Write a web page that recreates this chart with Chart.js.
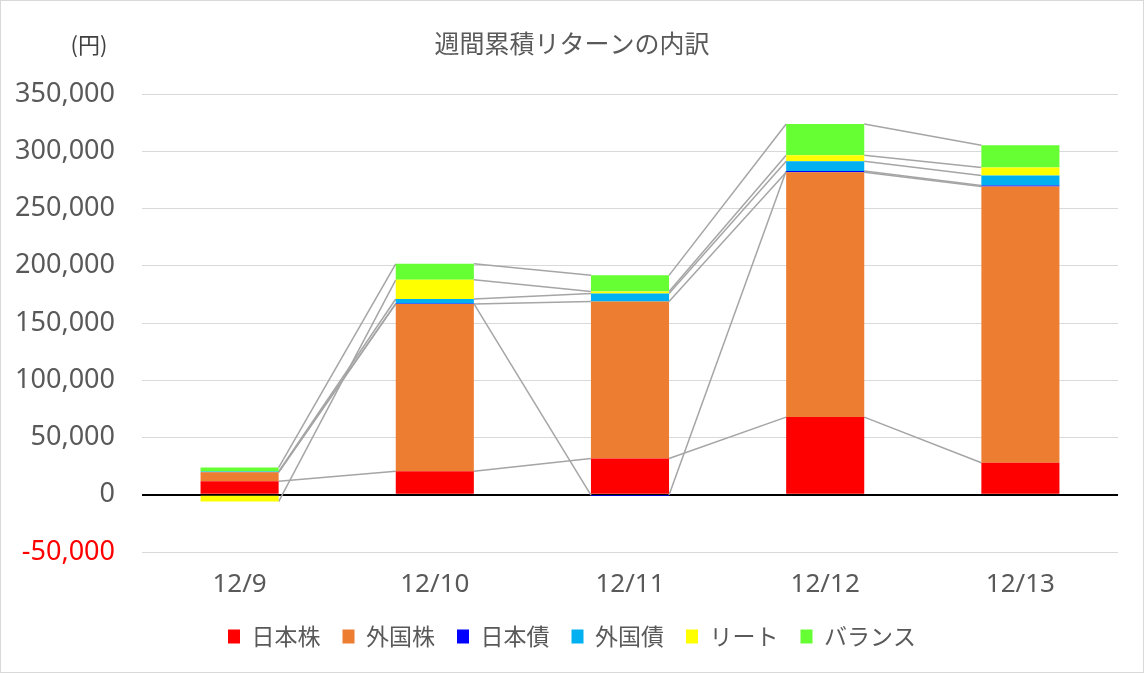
<!DOCTYPE html>
<html lang="ja">
<head>
    <meta charset="UTF-8">
    <title>週間累積リターンの内訳</title>
    <script src="https://cdn.jsdelivr.net/npm/chart.js"></script>
    <style>
        body { margin: 0; background: #fff; }
        #wrap { width: 1144px; height: 673px; position: relative; }
    </style>
</head>
<body>
    <div id="wrap"><canvas id="chart"></canvas></div>

    <script>
        // data (yen)
        const days = ['12/9', '12/10', '12/11', '12/12', '12/13'];
        const jpStock   = [11700, 20500, 31600, 67800, 28000];
        const fgnStock  = [7900, 146200, 137200, 213800, 241200];
        const jpBond    = [300, 300, -300, 1200, 900];
        const fgnBond   = [300, 4000, 7000, 8500, 8800];
        const reit      = [-6000, 16700, 1800, 5300, 7000];
        const balance   = [3500, 14000, 14000, 27200, 19300];

        const seriesNames  = ['日本株', '外国株', '日本債', '外国債', 'リート', 'バランス'];
        const seriesColors = ['#FF0000', '#ED7D31', '#0000FF', '#00B0F0', '#FFFF00', '#66FF33'];
        const seriesData   = [jpStock, fgnStock, jpBond, fgnBond, reit, balance];

        const yMin = -50000, yMax = 350000, yStep = 50000;

        const numFont = 'Noto Sans, "Noto Sans CJK JP", sans-serif';
        const jpFont = '"Noto Sans CJK JP", sans-serif';

        // white background + thin frame round the whole chart
        const frame = {
            id: 'frame',
            beforeDraw(chart) {
                const c = chart.ctx;
                c.save();
                c.fillStyle = '#fff';
                c.fillRect(0, 0, chart.width, chart.height);
                c.strokeStyle = '#d9d9d9';
                c.lineWidth = 1;
                c.strokeRect(0.5, 0.5, chart.width - 1, chart.height - 1);
                c.restore();
            },
            afterDraw(chart) {
                const c = chart.ctx;
                c.save();
                c.fillStyle = '#404040';
                c.font = '22px ' + jpFont;
                c.textAlign = 'center';
                c.textBaseline = 'middle';
                c.fillText('(円)', 89, 45);
                c.restore();
            }
        };

        // Excel style series lines between stacked segments
        const seriesLines = {
            id: 'seriesLines',
            beforeDatasetsDraw(chart) {
                const c = chart.ctx;
                c.save();
                c.strokeStyle = '#A5A5A5';
                c.lineWidth = 1.5;
                chart.data.datasets.forEach((ds, i) => {
                    const bars = chart.getDatasetMeta(i).data;
                    for (let j = 0; j < bars.length - 1; j++) {
                        const a = bars[j], b = bars[j + 1];
                        c.beginPath();
                        c.moveTo(a.x + a.width / 2, a.y);
                        c.lineTo(b.x - b.width / 2, b.y);
                        c.stroke();
                    }
                });
                c.restore();
            }
        };

        new Chart(document.getElementById('chart'), {
            type: 'bar',
            data: {
                labels: days,
                datasets: seriesNames.map((name, i) => ({
                    label: name,
                    data: seriesData[i],
                    backgroundColor: seriesColors[i],
                    borderWidth: 0,
                    barPercentage: 0.4,
                    categoryPercentage: 1.0
                }))
            },
            options: {
                responsive: true,
                maintainAspectRatio: false,
                animation: false,
                layout: { padding: { left: 0, right: 0, top: 0, bottom: 15 } },
                plugins: {
                    tooltip: { enabled: false },
                    title: {
                        display: true,
                        text: '週間累積リターンの内訳',
                        color: '#595959',
                        font: { family: jpFont, size: 25, weight: 'normal' },
                        padding: { top: 28, bottom: 36 }
                    },
                    legend: {
                        position: 'bottom',
                        labels: {
                            color: '#595959',
                            font: { family: jpFont, size: 23 },
                            boxWidth: 12,
                            boxHeight: 14,
                            padding: 22
                        }
                    }
                },
                scales: {
                    x: {
                        stacked: true,
                        grid: { display: false, drawTicks: false },
                        border: { display: false },
                        afterFit: s => { s.height = 51; },
                        ticks: {
                            color: '#595959',
                            font: { family: numFont, size: 26 },
                            padding: 17
                        }
                    },
                    y: {
                        stacked: true,
                        min: yMin,
                        max: yMax,
                        border: { display: false },
                        afterFit: s => { s.width = 142; },
                        grid: {
                            drawTicks: false,
                            color: ctx => ctx.tick && ctx.tick.value === 0 ? '#000000' : '#d9d9d9',
                            lineWidth: ctx => ctx.tick && ctx.tick.value === 0 ? 2 : 1
                        },
                        ticks: {
                            stepSize: yStep,
                            padding: 27,
                            color: ctx => ctx.tick.value < 0 ? '#FF0000' : '#595959',
                            font: { family: numFont, size: 27 },
                            callback: v => v.toLocaleString('en-US')
                        }
                    },
                    // empty right-hand margin so title and legend centre on the whole canvas
                    yRight: {
                        position: 'right',
                        grid: { display: false, drawTicks: false },
                        border: { display: false },
                        ticks: { display: false },
                        afterFit: s => { s.width = 26; }
                    }
                }
            },
            plugins: [frame, seriesLines]
        });
    </script>
</body>
</html>
